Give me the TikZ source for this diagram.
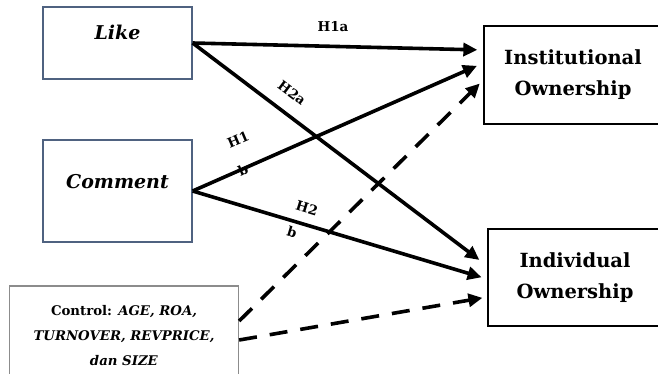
\documentclass[tikz,border=0pt]{standalone}
\usepackage{fontspec}
\setmainfont{DejaVu Serif}
\usetikzlibrary{arrows.meta}
\definecolor{boxblue}{RGB}{79,98,128}
\definecolor{boxgray}{RGB}{140,140,140}
\tikzstyle{varbox}=[draw=boxblue, line width=1.3pt, minimum width=149pt, inner sep=0pt, font=\bfseries\itshape\fontsize{19}{23}\selectfont]
\tikzstyle{ctrlbox}=[draw=boxgray, line width=1.3pt, minimum width=229pt, minimum height=100pt, align=center, font=\bfseries\fontsize{13.3}{25}\selectfont]
\tikzstyle{ownbox}=[draw, line width=1.3pt, minimum width=178pt, minimum height=98pt, align=center, font=\bfseries\fontsize{19.5}{31}\selectfont]
\tikzstyle{hyp}=[line width=3.6pt, -{Triangle[length=14pt, width=13pt]}]
\tikzstyle{ctrl}=[hyp, dash pattern=on 18pt off 13pt]
\tikzstyle{hlabel}=[inner sep=0pt, font=\bfseries\fontsize{13.5}{15}\selectfont]

\begin{document}
\begin{tikzpicture}[x=1pt, y=-1pt]
            \useasboundingbox (0,0) rectangle (658,373);
            \node[varbox, text height=32pt, text depth=40pt] (like) at (117.5,43) {Like};
            \node[varbox, text height=48pt, text depth=54pt] (comment) at (117.5,191) {Comment};
            \node[ctrlbox] (control) at (124,336) {Control: \textit{AGE, ROA,}\\\textit{TURNOVER, REVPRICE,}\\\textit{dan SIZE}};
            \node[ownbox] (inst) at (573,75) {Institutional\\Ownership};
            \node[ownbox, minimum width=174pt, minimum height=97pt] (indiv) at (575,277.5) {Individual\\Ownership};

            \draw[hyp, shorten >=6pt] (like.east) -- ([yshift=25pt]inst.west);
            \draw[hyp, shorten >=10pt] (like.east) -- ([yshift=11.5pt]indiv.west);
            \draw[hyp, shorten >=7pt] (comment.east) -- ([yshift=12pt]inst.west);
            \draw[hyp, shorten >=6pt] (comment.east) -- ([yshift=-1.5pt]indiv.west);
            \draw[ctrl, shorten >=5pt] ([yshift=15pt]control.east) -- ([yshift=-5pt]inst.west);
            \draw[ctrl, shorten >=5pt] ([yshift=-4pt]control.east) -- ([yshift=-19.5pt]indiv.west);

            \node[hlabel] (h1a) at (333,27) {H1a};
            \node[hlabel, rotate=-37] (h2a) at (292,93) {H2a};
            \node[hlabel, rotate=23] (h1) at (238,140) {H1};
            \node[hlabel, rotate=23] (h1b) at (243,170) {b};
            \node[hlabel, rotate=-17] (h2) at (307,208) {H2};
            \node[hlabel, rotate=-17] (h2b) at (292,232) {b};
        \end{tikzpicture}
\end{document}
